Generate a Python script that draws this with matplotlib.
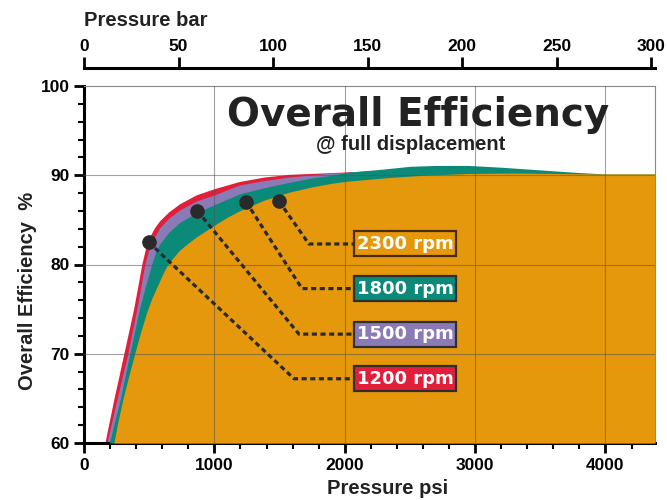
import matplotlib
matplotlib.use("Agg")
from matplotlib import pyplot as plt
from matplotlib.patches import Rectangle
from matplotlib.ticker import MultipleLocator

# efficiency curves (psi, %)
psi_1200 = [160, 195, 230, 268, 305, 343, 380, 412, 443, 470, 500, 540, 580, 650, 733, 860,
            1000, 1191, 1380, 1573, 1900, 2200]
eff_1200 = [60, 62.5, 65, 67.5, 70, 72.5, 75, 77.5, 80, 81.7, 83.0, 84.1, 84.9, 85.9, 86.8, 87.8,
            88.5, 89.3, 89.8, 90.1, 90.3, 90.5]

psi_1500 = [176, 215, 255, 295, 336, 370, 405, 436, 466, 495, 530, 580, 650, 733, 860,
            1000, 1191, 1380, 1573, 1900, 2200]
eff_1500 = [60, 62.5, 65, 67.5, 70, 72.5, 75, 77.5, 80, 81.5, 82.8, 84.1, 85.2, 86.1, 87.1,
            87.8, 88.9, 89.4, 89.8, 90.25, 90.45]

psi_1800 = [195, 237, 280, 315, 351, 388, 425, 470, 519, 545, 580, 650, 733, 860, 1000, 1191,
            1380, 1573, 1750, 1900, 2000, 2150, 2300, 2500, 2700, 2950, 3200, 3500, 3800, 4000, 4380]
eff_1800 = [60, 62.5, 65, 67.5, 70, 72.5, 75, 77.5, 80, 81.2, 82.3, 83.6, 84.7, 85.8, 86.7, 87.9,
            88.6, 89.2, 89.7, 90.0, 90.3, 90.5, 90.7, 91.0, 91.1, 91.1, 90.9, 90.6, 90.3, 90.15, 90.15]

psi_2300 = [229, 262, 300, 343, 389, 432, 480, 520, 560, 600, 634, 680, 733, 800, 863, 1000,
            1100, 1191, 1380, 1573, 1750, 1900, 2000, 2300, 2600, 2950, 3300, 3600, 3924, 4380]
eff_2300 = [60, 62.5, 65, 67.5, 70, 72.3, 74.6, 76.2, 77.5, 78.8, 79.8, 80.7, 81.6, 82.4, 83.1, 84.4,
            85.3, 86.0, 87.2, 88.1, 88.7, 89.1, 89.3, 89.7, 90.0, 90.2, 90.25, 90.2, 90.15, 90.15]

labels = ["2300 rpm", "1800 rpm", "1500 rpm", "1200 rpm"]
# marker dots on the curves and leader line elbows
dot_psi = [1496, 1244, 870, 496]
dot_eff = [87.1, 87.0, 86.0, 82.5]
elbow_psi = [1725, 1672, 1649, 1611]
label_eff = [82.3, 77.3, 72.2, 67.2]

bar_ticks = [0, 50, 100, 150, 200, 250, 300]

c_orange = "#E5980B"
c_teal = "#0C8A79"
c_purple = "#8B7AB5"
c_red = "#E11F3B"
c_dark = "#2a2a2a"

fig = plt.figure(figsize=(6.67, 5), dpi=100)
ax = fig.add_axes([84/667, 57/500, 571/667, 357/500])

ax.fill_between(psi_1200, eff_1200, 60, color=c_red, lw=0, zorder=1)
ax.fill_between(psi_1500, eff_1500, 60, color=c_purple, lw=0, zorder=2)
ax.fill_between(psi_1800, eff_1800, 60, color=c_teal, lw=0, zorder=3)
ax.fill_between(psi_2300, eff_2300, 60, color=c_orange, lw=0, zorder=4)

ax.set_xlim(0, 4380)
ax.set_ylim(60, 100)

# grid on top of the fills
for x in [1000, 2000, 3000, 4000]:
    ax.axvline(x, color="#555555", lw=0.8, alpha=0.55, zorder=5)
for y in [70, 80, 90]:
    ax.axhline(y, color="#555555", lw=0.8, alpha=0.55, zorder=5)

# leader lines, dots, label boxes
box_left, box_right, box_h = 2069, 2855, 2.8
face = [c_orange, c_teal, c_purple, c_red]
edge = ["#4a2a10", "#2e2e2e", "#2e2e2e", "#2e2e2e"]
for i in range(4):
    ax.plot([dot_psi[i], elbow_psi[i], box_left], [dot_eff[i], label_eff[i], label_eff[i]],
            color=c_dark, lw=2.3, ls=(0, (1.6, 1.1)), zorder=6)
    ax.plot(dot_psi[i], dot_eff[i], "o", color=c_dark, ms=9.5, zorder=7)
    ax.add_patch(Rectangle((box_left, label_eff[i] - box_h/2), box_right - box_left, box_h,
                           facecolor=face[i], edgecolor=edge[i], lw=1.6, zorder=8))
    ax.text((box_left + box_right)/2, label_eff[i], labels[i], color="white", fontsize=13,
            fontweight="bold", family="DejaVu Sans", ha="center", va="center", zorder=9)

# spines and ticks
for s in ["left", "bottom"]:
    ax.spines[s].set_linewidth(2.2)
for s in ["top", "right"]:
    ax.spines[s].set_linewidth(0.8)
    ax.spines[s].set_color("#888888")
ax.xaxis.set_major_locator(MultipleLocator(1000))
ax.xaxis.set_minor_locator(MultipleLocator(200))
ax.yaxis.set_major_locator(MultipleLocator(10))
ax.yaxis.set_minor_locator(MultipleLocator(2))
ax.tick_params(which="major", length=7, width=2, direction="out")
ax.tick_params(which="minor", length=4, width=1.5, direction="out")
for lab in ax.get_xticklabels() + ax.get_yticklabels():
    lab.set_fontsize(12.5)
    lab.set_fontweight("bold")
    lab.set_family("Liberation Sans")

sec = ax.secondary_xaxis(1.05, functions=(lambda p: p / 14.5038, lambda b: b * 14.5038))
sec.set_xticks(bar_ticks)
sec.spines["top"].set_linewidth(2.2)
sec.tick_params(length=8, width=2, direction="out", pad=2)
for lab in sec.get_xticklabels():
    lab.set_fontsize(12.5)
    lab.set_fontweight("bold")
    lab.set_family("Liberation Sans")

# texts
fig.text(418/667, 1 - 115/500, "Overall Efficiency", fontsize=28, fontweight="bold",
         family="DejaVu Sans", color="#222222", ha="center", va="center")
fig.text(411/667, 1 - 145/500, "@ full displacement", fontsize=14.5, fontweight="bold",
         family="Liberation Sans", color="#222222", ha="center", va="center")
fig.text(84/667, 1 - 21/500, "Pressure bar", fontsize=14.5, fontweight="bold",
         family="Liberation Sans", color="#222222", ha="left", va="center")
fig.text(388/667, 1 - 488/500, "Pressure psi", fontsize=14.5, fontweight="bold",
         family="Liberation Sans", color="#222222", ha="center", va="center")
fig.text(28/667, 1 - 291/500, "Overall Efficiency  %", fontsize=14.5, fontweight="bold",
         family="Liberation Sans", color="#222222", ha="center", va="center", rotation=90)

fig.savefig("out.png", dpi=100)
